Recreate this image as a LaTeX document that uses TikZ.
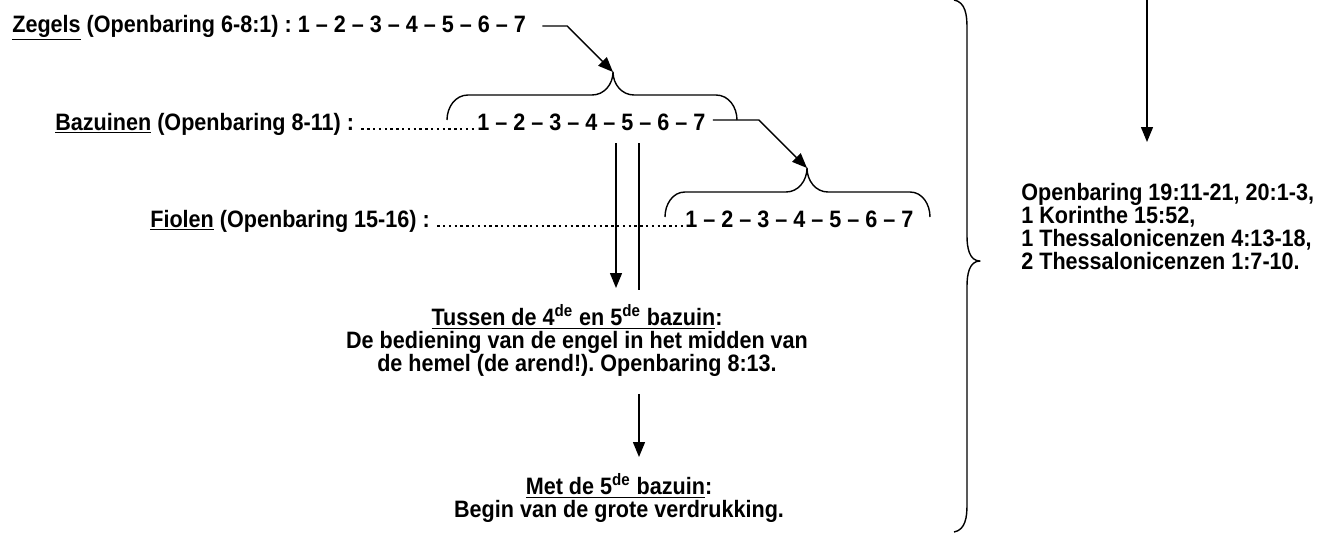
\documentclass[tikz,border=0pt]{standalone}
\usepackage{fontspec}
\setmainfont[FakeStretch=0.91]{Liberation Sans}
\usepackage{tikz}
\usetikzlibrary{arrows.meta, positioning}
\frenchspacing

\begin{document}
\begin{tikzpicture}[
  every node/.style={font=\fontsize{13.5}{13.1}\selectfont\bfseries, inner sep=0pt},
  regel/.style={anchor=base west},
  blok/.style={align=center, anchor=north},
  pijl/.style={-{Triangle[length=3mm, width=2.4mm]}, line width=0.8pt},
  lijn/.style={line width=0.8pt},
  stippel/.style={line width=1.4pt, dash pattern=on 1.4pt off 1.9pt},
  accolade/.style={line width=0.8pt, line join=round}
]
\useasboundingbox (0,0) rectangle (26.72,-10.64);

% --- reeksen: zegels, bazuinen, fiolen ---
\node[regel] (zegels) at (0.24,-0.64) {\underline{Zegels} (Openbaring 6-8:1) : 1 -- 2 -- 3 -- 4 -- 5 -- 6 -- 7};

\node[regel] (bazuinen) at (1.10,-2.60) {\underline{Bazuinen} (Openbaring 8-11) :};
\node[regel] (bazcijfers) at (9.54,-2.60) {1 -- 2 -- 3 -- 4 -- 5 -- 6 -- 7};

\node[regel] (fiolen) at (3.00,-4.54) {\underline{Fiolen} (Openbaring 15-16) :};
\node[regel] (fiolcijfers) at (13.70,-4.54) {1 -- 2 -- 3 -- 4 -- 5 -- 6 -- 7};

% --- puntjes ---
\draw[stippel] ([xshift=4pt, yshift=0.7pt]bazuinen.base east) -- ([xshift=-1pt, yshift=0.7pt]bazcijfers.base west);
\draw[stippel] ([xshift=4pt, yshift=0.7pt]fiolen.base east) -- ([xshift=-1pt, yshift=0.7pt]fiolcijfers.base west);

% --- accolades ---
\coordinate (baztop) at (12.26,-1.44);
\draw[accolade] (8.94,-2.40) to[out=90,in=180] (9.36,-1.90) -- (11.84,-1.90)
  to[out=0,in=-90] (baztop) to[out=-90,in=180] (12.68,-1.90) -- (14.32,-1.90)
  to[out=0,in=90] (14.74,-2.40);

\coordinate (fioltop) at (16.14,-3.36);
\draw[accolade] (13.30,-4.34) to[out=90,in=180] (13.70,-3.84) -- (15.72,-3.84)
  to[out=0,in=-90] (fioltop) to[out=-90,in=180] (16.56,-3.84) -- (18.20,-3.84)
  to[out=0,in=90] (18.60,-4.34);

\coordinate (accpunt) at (19.60,-5.22);
\draw[accolade] (19.08,0) to[out=-10,in=90] (19.34,-0.55) -- (19.34,-4.72)
  to[out=-90,in=180] (accpunt) to[out=180,in=90] (19.34,-5.72) -- (19.34,-10.10)
  to[out=-90,in=10] (19.08,-10.64);

% --- teksten midden en rechts ---
\node[blok] (tussen) at (11.54,-6.08) {\underline{Tussen de 4\textsuperscript{de} en 5\textsuperscript{de} bazuin}:\\
  De bediening van de engel in het midden van\\
  de hemel (de arend!). Openbaring 8:13.};

\node[blok] (met) at (12.38,-9.46) {\underline{Met de 5\textsuperscript{de} bazuin}:\\
  Begin van de grote verdrukking.};

\node[anchor=north west, align=left] (openb) at (20.42,-3.66) {Openbaring 19:11-21, 20:1-3,\\
  1 Korinthe 15:52,\\
  1 Thessalonicenzen 4:13-18,\\
  2 Thessalonicenzen 1:7-10.};

% --- verbindingen ---
\coordinate (v1) at (12.32,0);
\coordinate (v2) at (12.78,0);
\coordinate (boven) at (22.94,0);

\draw[pijl] ([xshift=0.32cm, yshift=0.12cm]zegels.base east) -- ++(0.5,0) -- (baztop);
\draw[pijl] ([xshift=0.14cm, yshift=0.2cm]bazcijfers.base east) -- ++(0.92,0) -- (fioltop);

\draw[pijl] ([yshift=-0.26cm]bazcijfers.base -| v1) -- ([yshift=0.32cm]tussen.north -| v1);
\draw[lijn] ([yshift=-0.26cm]bazcijfers.base -| v2) -- ([yshift=0.28cm]tussen.north -| v2);
\draw[pijl, shorten <=0.34cm, shorten >=0.32cm] (tussen.south -| v2) -- (met.north -| v2);

\draw[pijl] (boven) -- ([yshift=0.82cm]openb.north -| boven);

\end{tikzpicture}
\end{document}
